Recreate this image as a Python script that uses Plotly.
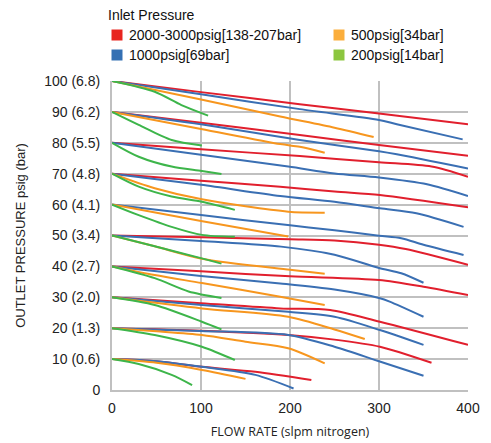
import plotly.graph_objects as go

SETPOINTS = [100, 90, 80, 70, 60, 50, 40, 30, 20, 10]
SERIES_NAMES = ["2000-3000psig[138-207bar]", "1000psig[69bar]",
                "500psig[34bar]", "200psig[14bar]"]

Y_TICKS = [0, 10, 20, 30, 40, 50, 60, 70, 80, 90, 100]
Y_TICKTEXT = ["0", "10 (0.6)", "20 (1.3)", "30 (2.0)", "40 (2.7)", "50 (3.4)",
              "60 (4.1)", "70 (4.8)", "80 (5.5)", "90 (6.2)", "100 (6.8)"]
X_TICKS = [0, 100, 200, 300, 400]

# 2000-3000 psig inlet
RED_FLOW = [
    [0, 100, 211, 300, 400],
    [0, 100, 211, 300, 400],
    [0, 100, 211, 300, 359, 400],
    [0, 100, 189, 250, 301, 400],
    None,
    [0, 100, 200, 250, 300, 330, 400],
    [0, 100, 200, 300, 350, 400],
    [0, 100, 189, 245, 301, 400],
    [0, 100, 198, 250, 301, 359],
    [0, 50, 101, 161, 224],
]
RED_PSIG = [
    [100, 96.4, 92.5, 89.5, 86],
    [90, 86.5, 82.5, 79.3, 75.8],
    [80, 77.9, 75.7, 73.7, 72.3, 69],
    [70, 67.7, 65.8, 64.2, 63.1, 59.1],
    None,
    [50, 49.4, 48.8, 48.4, 47, 45.6, 40.5],
    [40, 38.4, 36.8, 35.6, 33.4, 30.7],
    [30, 28.1, 26.4, 25.9, 22.1, 14.6],
    [20, 19.2, 17.8, 16.3, 14, 8.8],
    [10, 9.3, 7.5, 5.9, 3.2],
]

# 1000 psig inlet
BLUE_FLOW = [
    [0, 100, 211, 300, 320, 394],
    [0, 100, 211, 300, 320, 400],
    [0, 100, 198, 250, 300, 354, 400],
    [0, 100, 189, 250, 301, 342, 395],
    [0, 100, 200, 250, 300, 325, 350, 395],
    [0, 100, 190, 250, 300, 325, 350],
    [0, 100, 189, 250, 301, 312, 350],
    [0, 101, 198, 250, 301, 350],
    [0, 100, 198, 250, 300, 350],
    [0, 50, 101, 161, 204],
]
BLUE_PSIG = [
    [100, 95.7, 90.9, 87.4, 86, 81.1],
    [90, 86, 80.9, 77.3, 76.3, 71.7],
    [80, 76.1, 72.3, 70.1, 68.8, 66.6, 62.8],
    [70, 66.4, 62.8, 60.9, 58.8, 57.2, 52.8],
    [60, 56.6, 53.3, 51.7, 49.9, 49.1, 47, 43.7],
    [50, 48.2, 46.4, 43.8, 39.5, 37.8, 34.7],
    [40, 36.9, 34.5, 32.5, 29.7, 28.6, 23.7],
    [30, 27.5, 25.3, 23.7, 19.4, 14.6],
    [20, 19.1, 17.8, 14, 9.3, 4.6],
    [10, 9.3, 7.5, 4.9, 0.5],
]

# 500 psig inlet
ORANGE_FLOW = [
    [0, 100, 189, 250, 294],
    [0, 100, 189, 211, 239],
    None,
    [0, 48, 101, 198, 239],
    [0, 100, 198],
    [0, 48, 101, 200, 239],
    [0, 48, 101, 189, 239],
    [0, 101, 198, 250, 284],
    [0, 50, 101, 150, 198, 239],
    [0, 50, 101, 150],
]
ORANGE_PSIG = [
    [100, 94, 88.5, 84.9, 81.9],
    [90, 84.5, 79.6, 78.7, 76.8],
    None,
    [70, 65.3, 61.7, 57.7, 57.4],
    [60, 54.7, 49.7],
    [50, 46.5, 42.5, 38.9, 37.6],
    [40, 37.2, 34.6, 30.2, 27.5],
    [30, 26.4, 23.7, 19.6, 16.5],
    [20, 19, 17.8, 15.6, 13.5, 8.6],
    [10, 8.8, 6.5, 3.6],
]

# 200 psig inlet
GREEN_FLOW = [
    [0, 48, 78, 108],
    [0, 30, 67, 101],
    [0, 30, 67, 101, 123],
    [0, 30, 67, 101, 138],
    [0, 30, 67, 101, 138],
    [0, 48, 101, 123],
    [0, 48, 86, 123],
    [0, 48, 101, 123],
    [0, 48, 101, 138],
    [0, 30, 67, 90],
]
GREEN_PSIG = [
    [100, 96.5, 92.2, 88.8],
    [90, 85.8, 80.9, 79.1],
    [80, 75.5, 72.3, 70.9, 69.9],
    [70, 65.8, 62.6, 60.9, 58.3],
    [60, 56.6, 52.8, 50.2, 49.6],
    [50, 46.5, 42.6, 40.9],
    [40, 36.2, 31.9, 29.8],
    [30, 27.5, 22.1, 19.6],
    [20, 17.8, 14, 9.7],
    [10, 8.4, 4.9, 1.6],
]

LINE_COLORS = ["#E11F2D", "#3A6FB3", "#F7961E", "#3DB54A"]
LEGEND_COLORS = ["#E8251F", "#3470B3", "#FBAE3C", "#8CC63F"]

SERIES = [(RED_FLOW, RED_PSIG), (BLUE_FLOW, BLUE_PSIG),
          (ORANGE_FLOW, ORANGE_PSIG), (GREEN_FLOW, GREEN_PSIG)]

fig = go.Figure()
for (flows, psigs), name, col in zip(SERIES, SERIES_NAMES, LINE_COLORS):
    for f, p in zip(flows, psigs):
        if f is None:
            continue
        fig.add_trace(go.Scatter(
            x=f, y=p, mode="lines", name=name, showlegend=False,
            line=dict(color=col, width=2, shape="spline", smoothing=0.8),
            hoverinfo="skip"))

# page has an 8px body margin; figure coordinates are page coordinates minus 8
OFF = 8
W, H = 491 - OFF, 443 - OFF
L, R, T, B = 112 - OFF, 468 - OFF, 81 - OFF, 390 - OFF


def px(xp):
    return (xp - OFF - L) / (R - L)


def py(yp):
    return (B - (yp - OFF)) / (B - T)


FONT = "Arial, Liberation Sans, sans-serif"
annotations = [dict(text="Inlet Pressure", xref="paper", yref="paper",
                    x=px(106), y=py(15), xanchor="left", yanchor="middle",
                    showarrow=False, font=dict(family=FONT, size=14, color="#111"))]
shapes = []
legend_pos = [(117, 35), (117, 55), (339, 35), (339, 55)]
for name, col, (cx, cy) in zip(SERIES_NAMES, LEGEND_COLORS, legend_pos):
    shapes.append(dict(type="rect", xref="paper", yref="paper",
                       x0=px(cx - 5.5), x1=px(cx + 5.5), y0=py(cy + 5.5), y1=py(cy - 5.5),
                       fillcolor=col, line=dict(width=0)))
    annotations.append(dict(text=name, xref="paper", yref="paper",
                            x=px(cx + 10), y=py(cy), xanchor="left", yanchor="middle",
                            showarrow=False, font=dict(family=FONT, size=14, color="#111")))

fig.update_layout(
    width=W, height=H,
    margin=dict(l=L, r=W - R, t=T, b=H - B, pad=0, autoexpand=False),
    paper_bgcolor="white", plot_bgcolor="white",
    showlegend=False,
    annotations=annotations, shapes=shapes,
    xaxis=dict(range=[0, 400], tickvals=X_TICKS, showgrid=True, gridcolor="#C0C0C0",
               gridwidth=2, showline=True, linecolor="#C0C0C0", linewidth=2,
               zeroline=False, ticks="", ticklabelstandoff=4, automargin=False,
               tickfont=dict(family=FONT, size=14, color="#222"),
               title=dict(text="FLOW RATE (slpm nitrogen)", standoff=12,
                          font=dict(family="Open Sans, sans-serif", size=12.5, color="#222"))),
    yaxis=dict(range=[0, 100], tickvals=Y_TICKS, ticktext=Y_TICKTEXT, showgrid=True,
               gridcolor="#C0C0C0", gridwidth=2, showline=True, linecolor="#C0C0C0",
               linewidth=2, zeroline=False, ticks="", ticklabelstandoff=7, automargin=False,
               tickfont=dict(family=FONT, size=14, color="#222"),
               title=dict(text="OUTLET PRESSURE psig (bar)", standoff=16,
                          font=dict(family=FONT, size=13, color="#222"))),
)

fig.write_html("out.html")
